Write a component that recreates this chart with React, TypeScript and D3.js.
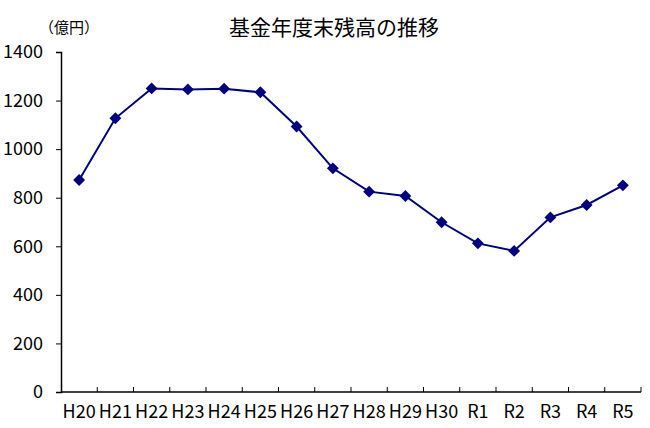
import { useEffect, useRef } from "react";
import * as d3 from "d3";

const years = [
  "H20", "H21", "H22", "H23", "H24", "H25", "H26", "H27",
  "H28", "H29", "H30", "R1", "R2", "R3", "R4", "R5",
];
const balance = [
  873, 1127, 1250, 1246, 1249, 1234, 1093, 921,
  825, 807, 699, 612, 581, 719, 770, 851,
];
const yTicks = [0, 200, 400, 600, 800, 1000, 1200, 1400];

const title = "基金年度末残高の推移";
const unit = "（億円）";

export default function App() {
  const svgRef = useRef<SVGSVGElement | null>(null);
  const width = 650;
  const height = 428;

  useEffect(() => {
    if (!svgRef.current) return;
    const svg = d3.select(svgRef.current);
    svg.selectAll("*").remove();

    const left = 61;
    const right = 641;
    const top = 52;
    const bottom = 392;
    const font = "'Noto Sans CJK JP', sans-serif";

    const x = d3.scaleBand<string>().domain(years).range([left, right]);
    const y = d3.scaleLinear().domain([0, 1400]).range([bottom, top]);

    // title + unit
    svg
      .append("text")
      .attr("x", 334)
      .attr("y", 35)
      .attr("text-anchor", "middle")
      .attr("font-family", font)
      .attr("font-size", 21)
      .attr("fill", "#000")
      .text(title);
    svg
      .append("text")
      .attr("x", 69)
      .attr("y", 33)
      .attr("text-anchor", "middle")
      .attr("font-family", font)
      .attr("font-size", 15)
      .attr("fill", "#000")
      .text(unit);

    // y axis
    const yAxis = svg
      .append("g")
      .attr("transform", `translate(${left},0)`)
      .call(
        d3
          .axisLeft(y)
          .tickValues(yTicks)
          .tickSize(5)
          .tickPadding(13)
          .tickFormat((d) => String(d))
      );
    yAxis.select(".domain").attr("stroke", "#000").attr("stroke-width", 1.5);
    yAxis.selectAll(".tick line").attr("stroke", "#000");
    yAxis
      .selectAll(".tick text")
      .attr("font-family", font)
      .attr("font-size", 18)
      .attr("fill", "#000");

    // x axis
    const xAxisG = svg.append("g").attr("transform", `translate(0,${bottom})`);
    xAxisG
      .append("line")
      .attr("x1", left)
      .attr("x2", right)
      .attr("stroke", "#000")
      .attr("stroke-width", 1.5);
    xAxisG
      .selectAll("line.tick")
      .data(years)
      .enter()
      .append("line")
      .attr("class", "tick")
      .attr("x1", (d) => (x(d) ?? 0) + x.bandwidth())
      .attr("x2", (d) => (x(d) ?? 0) + x.bandwidth())
      .attr("y1", 0)
      .attr("y2", -5)
      .attr("stroke", "#000");
    xAxisG
      .selectAll("text")
      .data(years)
      .enter()
      .append("text")
      .attr("x", (d) => (x(d) ?? 0) + x.bandwidth() / 2)
      .attr("y", 26)
      .attr("text-anchor", "middle")
      .attr("font-family", font)
      .attr("font-size", 18)
      .attr("fill", "#000")
      .text((d) => d);

    // line + markers
    const line = d3
      .line<number>()
      .x((_, i) => (x(years[i]) ?? 0) + x.bandwidth() / 2)
      .y((d) => y(d));
    svg
      .append("path")
      .datum(balance)
      .attr("d", line)
      .attr("fill", "none")
      .attr("stroke", "#000080")
      .attr("stroke-width", 2);

    const diamond = d3.symbol().type(d3.symbolDiamond2).size(90);
    svg
      .append("g")
      .selectAll("path")
      .data(balance)
      .enter()
      .append("path")
      .attr("d", diamond)
      .attr(
        "transform",
        (d, i) => `translate(${(x(years[i]) ?? 0) + x.bandwidth() / 2},${y(d)})`
      )
      .attr("fill", "#000080");
  }, []);

  return (
    <svg
      ref={svgRef}
      width={width}
      height={height}
      style={{ position: "absolute", left: 0, top: 0, background: "#fff" }}
    />
  );
}
